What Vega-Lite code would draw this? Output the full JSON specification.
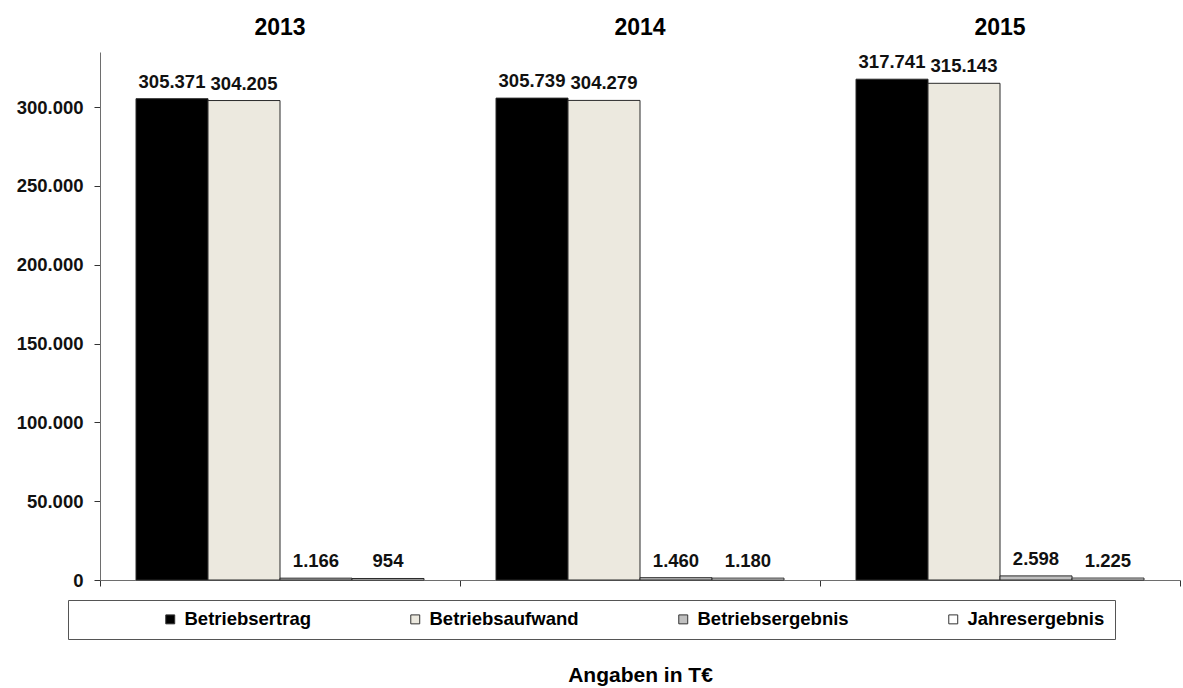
{
  "$schema": "https://vega.github.io/schema/vega-lite/v6.json",
  "width": 1080,
  "height": 528,
  "autosize": "none",
  "padding": {"left": 100, "top": 52, "right": 3, "bottom": 108},
  "background": "white",
  "config": {
    "view": {"stroke": null},
    "font": "Liberation Sans",
    "locale": {"number": {"decimal": ",", "thousands": ".", "grouping": [3], "currency": ["", " €"]}}
  },
  "data": {
    "values": [
      {"year": "2013", "series": "Betriebsertrag", "value": 305371},
      {"year": "2013", "series": "Betriebsaufwand", "value": 304205},
      {"year": "2013", "series": "Betriebsergebnis", "value": 1166},
      {"year": "2013", "series": "Jahresergebnis", "value": 954},
      {"year": "2014", "series": "Betriebsertrag", "value": 305739},
      {"year": "2014", "series": "Betriebsaufwand", "value": 304279},
      {"year": "2014", "series": "Betriebsergebnis", "value": 1460},
      {"year": "2014", "series": "Jahresergebnis", "value": 1180},
      {"year": "2015", "series": "Betriebsertrag", "value": 317741},
      {"year": "2015", "series": "Betriebsaufwand", "value": 315143},
      {"year": "2015", "series": "Betriebsergebnis", "value": 2598},
      {"year": "2015", "series": "Jahresergebnis", "value": 1225}
    ]
  },
  "resolve": {"axis": {"x": "independent"}},
  "layer": [
    {
      "mark": {"type": "bar", "stroke": "#2a2a2a", "strokeWidth": 1},
      "encoding": {
        "x": {
          "field": "year", "type": "nominal",
          "scale": {"paddingInner": 0, "paddingOuter": 0},
          "axis": {
            "orient": "bottom", "labels": false, "tickBand": "extent", "tickSize": 6,
            "domainColor": "#6e6e6e", "tickColor": "#333333",
            "title": "Angaben in T€", "titleFont": "Liberation Sans", "titleFontSize": 21,
            "titleFontWeight": "bold", "titleColor": "#000000", "titlePadding": 78
          }
        },
        "xOffset": {
          "field": "series", "type": "nominal",
          "sort": ["Betriebsertrag", "Betriebsaufwand", "Betriebsergebnis", "Jahresergebnis"],
          "scale": {"paddingInner": 0, "paddingOuter": 0.5}
        },
        "y": {
          "field": "value", "type": "quantitative",
          "scale": {"domain": [0, 335000], "nice": false},
          "axis": {
            "values": [0, 50000, 100000, 150000, 200000, 250000, 300000],
            "format": ",d", "grid": false, "title": null,
            "domainColor": "#6e6e6e", "tickColor": "#333333", "tickSize": 6,
            "labelPadding": 11, "labelFont": "Liberation Sans", "labelFontSize": 18.5,
            "labelFontWeight": "bold", "labelColor": "#111111"
          }
        },
        "color": {
          "field": "series", "type": "nominal",
          "sort": ["Betriebsertrag", "Betriebsaufwand", "Betriebsergebnis", "Jahresergebnis"],
          "scale": {
            "domain": ["Betriebsertrag", "Betriebsaufwand", "Betriebsergebnis", "Jahresergebnis"],
            "range": ["#000000", "#ECE9DF", "#C0C0C0", "#FFFFFF"]
          },
          "legend": {
            "orient": "none", "legendX": -32, "legendY": 548,
            "direction": "horizontal",
            "title": " ", "titleOrient": "left", "titleFontSize": 1, "titlePadding": 83,
            "padding": 10, "strokeColor": "#555555", "fillColor": "#ffffff",
            "symbolType": "square", "symbolSize": 80, "symbolStrokeColor": "#333333",
            "symbolStrokeWidth": 1, "labelFont": "Liberation Sans", "labelFontSize": 18.5,
            "labelFontWeight": "bold", "labelColor": "#000000", "labelOffset": 5,
            "columnPadding": 95
          }
        }
      }
    },
    {
      "mark": {"type": "text", "baseline": "alphabetic", "dy": -11, "font": "Liberation Sans", "fontSize": 18.5, "fontWeight": "bold", "color": "#111111"},
      "encoding": {
        "x": {
          "field": "year", "type": "nominal",
          "scale": {"paddingInner": 0, "paddingOuter": 0},
          "axis": {
            "orient": "top", "domain": false, "ticks": false, "title": null,
            "labelAngle": 0, "labelFont": "Liberation Sans", "labelFontSize": 23,
            "labelFontWeight": "bold", "labelColor": "#000000", "labelPadding": 13
          }
        },
        "xOffset": {
          "field": "series", "type": "nominal",
          "sort": ["Betriebsertrag", "Betriebsaufwand", "Betriebsergebnis", "Jahresergebnis"],
          "scale": {"paddingInner": 0, "paddingOuter": 0.5}
        },
        "y": {"field": "value", "type": "quantitative"},
        "text": {"field": "value", "type": "quantitative", "format": ",d"}
      }
    }
  ]
}
